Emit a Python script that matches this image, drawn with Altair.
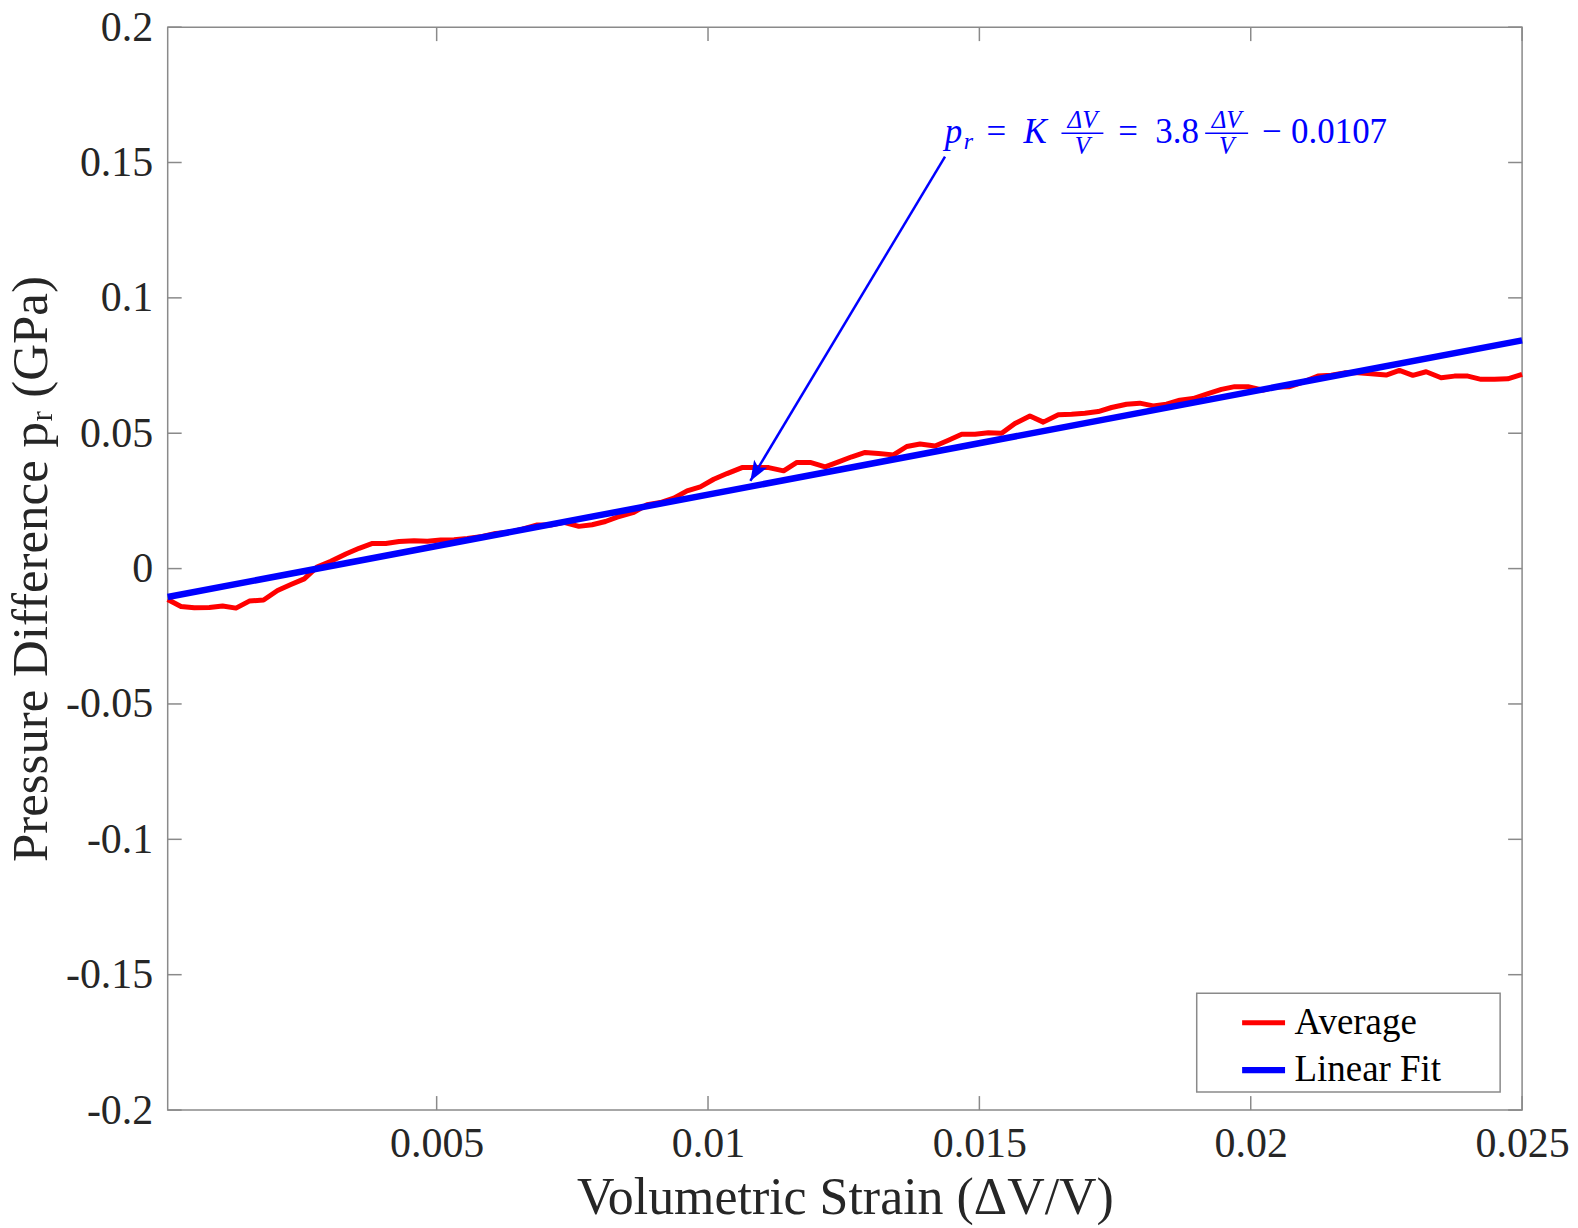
import altair as alt
import pandas as pd

# ---------------- data ----------------
avg_x = [0.000044, 0.000289, 0.000535, 0.000811, 0.001056, 0.001302, 0.001547, 0.001811, 0.002068, 0.002314,
         0.00256, 0.002805, 0.00305, 0.003326, 0.00357, 0.003817, 0.004062, 0.004308, 0.004584, 0.004829,
         0.005074, 0.00532, 0.005565, 0.005841, 0.006086, 0.006332, 0.006577, 0.006853, 0.0071, 0.007345,
         0.00762, 0.007865, 0.00811, 0.008325, 0.008633, 0.008878, 0.009122, 0.009369, 0.009614, 0.009858,
         0.010105, 0.01035, 0.010626, 0.010871, 0.011117, 0.011393, 0.011638, 0.011883, 0.012159, 0.012405,
         0.01265, 0.012895, 0.013141, 0.013417, 0.013662, 0.013907, 0.014183, 0.01443, 0.014674, 0.01492,
         0.015166, 0.01541, 0.015655, 0.015931, 0.016178, 0.016454, 0.016699, 0.016944, 0.01719, 0.017435,
         0.017711, 0.017956, 0.018202, 0.018447, 0.018692, 0.018938, 0.019214, 0.019459, 0.019704, 0.01995,
         0.020226, 0.020471, 0.020716, 0.020962, 0.021238, 0.021483, 0.021728, 0.021975, 0.02222, 0.022495,
         0.02274, 0.022987, 0.023232, 0.023508, 0.023753, 0.024, 0.024244, 0.02449, 0.024735, 0.025]
avg_y = [-0.0114, -0.0140, -0.0145, -0.0144, -0.0138, -0.0146, -0.0120, -0.0116, -0.0081, -0.0059,
         -0.0038, 0.0007, 0.0027, 0.0054, 0.0075, 0.0093, 0.0093, 0.0100, 0.0103, 0.0101,
         0.0106, 0.0107, 0.0111, 0.0119, 0.0130, 0.0134, 0.0146, 0.0161, 0.0161, 0.0171,
         0.0156, 0.0162, 0.0174, 0.0190, 0.0208, 0.0236, 0.0244, 0.0260, 0.0287, 0.0302,
         0.0330, 0.0351, 0.0373, 0.0373, 0.0373, 0.0361, 0.0392, 0.0392, 0.0376, 0.0394,
         0.0413, 0.0429, 0.0425, 0.0420, 0.0451, 0.0460, 0.0453, 0.0474, 0.0496, 0.0496,
         0.0502, 0.0500, 0.0536, 0.0564, 0.0541, 0.0568, 0.0570, 0.0574, 0.0580, 0.0595,
         0.0607, 0.0611, 0.0601, 0.0607, 0.0622, 0.0628, 0.0646, 0.0662, 0.0672, 0.0672,
         0.0659, 0.0671, 0.0672, 0.0689, 0.0711, 0.0714, 0.0723, 0.0723, 0.0720, 0.0715,
         0.0732, 0.0714, 0.0727, 0.0705, 0.0711, 0.0711, 0.0699, 0.0699, 0.0701, 0.0717]
assert len(avg_x) == len(avg_y)

fit_x = [0.000044, 0.025]
fit_y = [-0.0105, 0.0843]

series_names = ["Average", "Linear Fit"]
series_colors = ["#ff0000", "#0000ff"]

x_ticks = [0.005, 0.01, 0.015, 0.02, 0.025]
y_ticks = [-0.2, -0.15, -0.1, -0.05, 0, 0.05, 0.1, 0.15, 0.2]
x_domain = [0.000044, 0.025]
y_domain = [-0.2, 0.2]

# annotation (arrow from text to curve)
arrow_from = (0.014367, 0.1522)
arrow_to = (0.01078, 0.0324)
ann_anchor = (0.014361, 0.1573)

# ---------------- layout / style ----------------
W, H = 1357, 1085
FONT = "Liberation Serif, DejaVu Serif, serif"
GRAY = "#8a8a8a"
TXT = "#262626"
kx = W / (x_domain[1] - x_domain[0])   # px per x unit
ky = H / (y_domain[1] - y_domain[0])   # px per y unit
TICK = 14

# legend frame, in pixels relative to the plot area (left, top, right, bottom)
LEG = (1031, 968, 1335, 1067)

xscale = alt.Scale(domain=x_domain, nice=False, zero=False)
yscale = alt.Scale(domain=y_domain, nice=False, zero=False)
minus_fix = "replace(format(datum.value, '~g'), '\u2212', '-')"

xaxis = alt.Axis(values=x_ticks, labelExpr=minus_fix, ticks=False, tickSize=0, domain=False, grid=False,
                 labelFont=FONT, labelFontSize=42, labelColor=TXT, labelPadding=14,
                 labelFlush=False, labelOverlap=False,
                 title="Volumetric Strain (ΔV/V)", titleFont=FONT, titleFontSize=52,
                 titleFontWeight="normal", titleColor=TXT, titleX=W / 2, titleY=104,
                 titleBaseline="alphabetic", titleAlign="center")
yaxis = alt.Axis(values=y_ticks, labelExpr=minus_fix, ticks=False, tickSize=0, domain=False, grid=False,
                 labelFont=FONT, labelFontSize=42, labelColor=TXT, labelPadding=15,
                 labelFlush=False, labelOverlap=False,
                 title="Pressure Difference pᵣ (GPa)", titleFont=FONT, titleFontSize=51,
                 titleFontWeight="normal", titleColor=TXT, titleX=-121, titleY=H / 2,
                 titleAngle=270, titleBaseline="alphabetic", titleAlign="center")


def X(f):
    return alt.X(f, type="quantitative", scale=xscale, axis=xaxis)


def Y(f):
    return alt.Y(f, type="quantitative", scale=yscale, axis=yaxis)


# ---------------- tables ----------------
lines_df = pd.concat([
    pd.DataFrame({"x": avg_x, "y": avg_y, "series": series_names[0], "ord": range(len(avg_x))}),
    pd.DataFrame({"x": fit_x, "y": fit_y, "series": series_names[1], "ord": range(len(fit_x))}),
])

tx = TICK / kx
ty = TICK / ky
tick_rows = []
for v in x_ticks:
    tick_rows.append({"x": v, "x2": v, "y": y_domain[0], "y2": y_domain[0] + ty})
    tick_rows.append({"x": v, "x2": v, "y": y_domain[1], "y2": y_domain[1] - ty})
for v in y_ticks:
    tick_rows.append({"x": x_domain[0], "x2": x_domain[0] + tx, "y": v, "y2": v})
    tick_rows.append({"x": x_domain[1], "x2": x_domain[1] - tx, "y": v, "y2": v})
ticks_df = pd.DataFrame(tick_rows)

arrow_df = pd.DataFrame({"x": [arrow_from[0]], "y": [arrow_from[1]],
                         "x2": [arrow_to[0]], "y2": [arrow_to[1]]})
head_df = pd.DataFrame({"x": [arrow_to[0]], "y": [arrow_to[1]]})
anchor_df = pd.DataFrame({"x": [ann_anchor[0]], "y": [ann_anchor[1]]})

# fraction bars of the annotation (pixel offsets from the anchor)
bar_px = [(117, 159), (261, 304)]
bar_dy = -9.5
bars_df = pd.DataFrame({
    "x": [ann_anchor[0] + a / kx for a, b in bar_px],
    "x2": [ann_anchor[0] + b / kx for a, b in bar_px],
    "y": [ann_anchor[1] - bar_dy / ky] * 2,
})

legbox_df = pd.DataFrame({
    "x": [x_domain[0] + LEG[0] / kx], "x2": [x_domain[0] + LEG[2] / kx],
    "y": [y_domain[1] - LEG[1] / ky], "y2": [y_domain[1] - LEG[3] / ky],
})

# ---------------- layers ----------------
legbox = alt.Chart(legbox_df).mark_rect(fill="white", stroke=GRAY, strokeWidth=1.5).encode(
    x=X("x"), x2="x2", y=Y("y"), y2="y2")

lines = alt.Chart(lines_df).mark_line(strokeCap="butt", strokeJoin="round").encode(
    x=X("x"), y=Y("y"),
    order=alt.Order("ord:Q"),
    color=alt.Color("series:N", scale=alt.Scale(domain=series_names, range=series_colors),
                    legend=alt.Legend(title=None, orient="none", legendX=LEG[0], legendY=LEG[1],
                                      padding=5,
                                      symbolType="stroke", symbolSize=1850, symbolStrokeWidth=5,
                                      symbolOffset=37, labelFont=FONT, labelFontSize=37,
                                      labelColor="black", labelOffset=6, rowPadding=4,
                                      labelLimit=500)),
    strokeWidth=alt.StrokeWidth("series:N", scale=alt.Scale(domain=series_names, range=[5, 6.5]),
                                legend=None),
)

ticks = alt.Chart(ticks_df).mark_rule(color=GRAY, strokeWidth=1.5).encode(
    x=X("x"), x2="x2", y=Y("y"), y2="y2")

arrow = alt.Chart(arrow_df).mark_rule(color="#0000ff", strokeWidth=2.5).encode(
    x=X("x"), x2="x2", y=Y("y"), y2="y2")

head = alt.Chart(head_df).mark_point(
    shape="M0,0 L-0.38,-1 L0,-0.78 L0.38,-1 Z", size=1600, angle=31,
    filled=True, color="#0000ff", opacity=1).encode(x=X("x"), y=Y("y"))

bars = alt.Chart(bars_df).mark_rule(color="#0000ff", strokeWidth=1.5).encode(
    x=X("x"), x2="x2", y=Y("y"))


def ann_text(txt, dx, dy=0, size=35, italic=False, align="left"):
    return alt.Chart(anchor_df).mark_text(
        text=txt, dx=dx, dy=dy, fontSize=size, font=FONT, color="#0000ff",
        fontStyle="italic" if italic else "normal", align=align, baseline="alphabetic"
    ).encode(x=X("x"), y=Y("y"))


ann = [
    ann_text("p", 0, italic=True),
    ann_text("r", 19, dy=6, size=24, italic=True),
    ann_text("=", 42),
    ann_text("K", 79, italic=True),
    ann_text("ΔV", 138, dy=-15, size=25, italic=True, align="center"),
    ann_text("V", 138, dy=11, size=25, italic=True, align="center"),
    ann_text("=", 174),
    ann_text("3.8", 211),
    ann_text("ΔV", 282.5, dy=-15, size=25, italic=True, align="center"),
    ann_text("V", 282.5, dy=11, size=25, italic=True, align="center"),
    ann_text("\u2212", 318),
    ann_text("0.0107", 347),
]

chart = alt.layer(legbox, ticks, lines, arrow, head, bars, *ann).properties(
    width=W, height=H,
    padding={"left": 160, "top": 18, "right": 48, "bottom": 115},
    autosize=alt.AutoSizeParams(type="none"),
    background="white",
).configure_view(stroke=GRAY, strokeWidth=1.5)

chart.save("out.html", embed_options={"renderer": "svg", "actions": False})
